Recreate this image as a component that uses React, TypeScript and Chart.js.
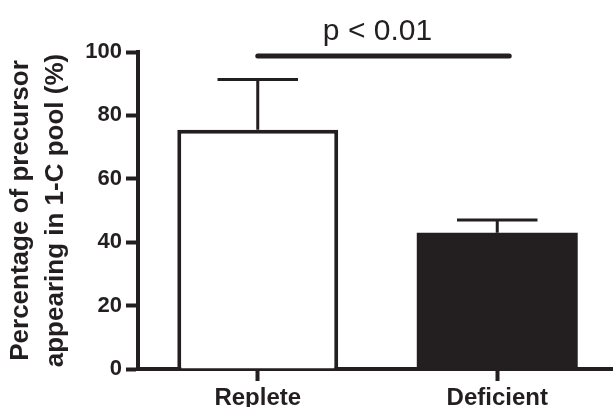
import React, { useEffect, useRef } from "react";
import { Chart, registerables } from "chart.js";

Chart.register(...registerables);

const categories = ["Replete", "Deficient"];
const means = [75.5, 43];
const errorTops = [91.3, 47];
const barFills = ["#ffffff", "#231f20"];
const barBorders = [4, 0];
const yTickMin = 0;
const yTickMax = 100;
const yTickStep = 20;
const sigLabel = "p < 0.01";
const sigLevel = 98.7;
const sigFrom = 0;
const sigTo = 1.05;
const yTitle = ["Percentage of precursor", "appearing in 1-C pool (%)"];

const INK = "#231f20";
const FONT = "'Liberation Sans', Arial, Helvetica, sans-serif";

const annotationsPlugin = {
  id: "errorBarsAndSig",
  afterDatasetsDraw(chart: any) {
    const ctx = chart.ctx;
    const meta = chart.getDatasetMeta(0);
    const y = chart.scales.y;
    const x = chart.scales.x;
    ctx.save();
    ctx.strokeStyle = INK;
    ctx.lineWidth = 3;
    ctx.lineCap = "butt";
    meta.data.forEach((bar: any, i: number) => {
      const cx = bar.x;
      const top = y.getPixelForValue(errorTops[i]);
      const base = y.getPixelForValue(means[i]);
      const half = bar.width / 4;
      ctx.beginPath();
      ctx.moveTo(cx, base);
      ctx.lineTo(cx, top);
      ctx.moveTo(cx - half, top);
      ctx.lineTo(cx + half, top);
      ctx.stroke();
    });
    const sy = y.getPixelForValue(sigLevel);
    ctx.lineWidth = 5;
    ctx.lineCap = "round";
    ctx.beginPath();
    ctx.moveTo(x.getPixelForValue(sigFrom), sy);
    ctx.lineTo(x.getPixelForValue(sigTo), sy);
    ctx.stroke();
    ctx.fillStyle = INK;
    ctx.font = `30px ${FONT}`;
    ctx.textAlign = "center";
    ctx.textBaseline = "alphabetic";
    const tx = (x.getPixelForValue(0) + x.getPixelForValue(1)) / 2;
    ctx.fillText(sigLabel, tx, sy - 16);
    ctx.restore();
  },
};

export default function App() {
  const ref = useRef<HTMLCanvasElement>(null);

  useEffect(() => {
    if (!ref.current) return;
    const chart = new Chart(ref.current, {
      type: "bar",
      data: {
        labels: categories,
        datasets: [
          {
            data: means,
            backgroundColor: barFills,
            borderColor: INK,
            borderWidth: barBorders,
            borderSkipped: "start",
            categoryPercentage: 1,
            barPercentage: 0.672,
          },
        ],
      },
      options: {
        animation: false,
        responsive: false,
        devicePixelRatio: 1,
        layout: { padding: { top: 52, right: 0, left: 0, bottom: 0 } },
        plugins: {
          legend: { display: false },
          tooltip: { enabled: false },
        },
        scales: {
          x: {
            grid: {
              display: true,
              offset: false,
              drawOnChartArea: false,
              drawTicks: true,
              tickLength: 12,
              tickWidth: 4,
              tickColor: INK,
            },
            border: { display: true, width: 4, color: INK },
            ticks: {
              color: INK,
              padding: 3,
              font: { family: FONT, size: 24, weight: "bold" },
            },
            afterFit: (s: any) => {
              s.height = 38;
            },
          },
          y: {
            min: yTickMin,
            max: yTickMax,
            ticks: {
              stepSize: yTickStep,
              color: INK,
              padding: 4,
              font: { family: FONT, size: 22, weight: "bold" },
            },
            grid: {
              display: true,
              drawOnChartArea: false,
              drawTicks: true,
              tickLength: 12,
              tickWidth: 4,
              tickColor: INK,
            },
            border: { display: true, width: 4, color: INK },
            title: {
              display: true,
              text: yTitle,
              color: INK,
              font: { family: FONT, size: 26, weight: "bold", lineHeight: 1.32 },
              padding: { top: 4, bottom: 0 },
            },
            afterFit: (s: any) => {
              s.width = 138;
            },
          },
        },
      },
      plugins: [annotationsPlugin],
    });
    return () => chart.destroy();
  }, []);

  return (
    <div
      style={{
        position: "fixed",
        left: 0,
        top: 0,
        width: 613,
        height: 407,
        overflow: "hidden",
        background: "#fff",
      }}
    >
      <canvas ref={ref} width={617} height={407} style={{ display: "block" }} />
    </div>
  );
}
